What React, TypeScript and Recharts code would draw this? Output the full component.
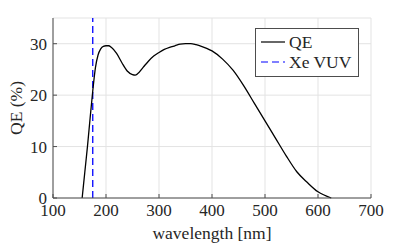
import React from 'react'
import { LineChart, Line, XAxis, YAxis, CartesianGrid, ReferenceLine, Legend } from 'recharts'

// photocathode quantum efficiency
const wavelengths = [
  155, 160, 165, 170, 175, 180, 185, 190, 195, 200, 205, 210, 220, 230, 240, 250, 255, 260, 270, 280,
  290, 300, 310, 320, 330, 340, 350, 360, 370, 380, 390, 400, 420, 440, 460, 480, 500, 520, 540, 560,
  580, 600, 625,
]
const qeValues = [
  0, 5, 10, 15.5, 20.8, 25.3, 27.8, 29.0, 29.5, 29.6, 29.6, 29.3, 28.1, 26.3, 24.7, 24.0, 23.9, 24.2,
  25.4, 26.6, 27.6, 28.3, 28.9, 29.3, 29.6, 29.9, 30.0, 30.0, 29.8, 29.5, 29.1, 28.6, 27.0, 24.8, 21.8,
  18.4, 15.0, 11.6, 8.2, 5.1, 3.0, 1.2, 0,
]
const xTicks = [100, 200, 300, 400, 500, 600, 700]
const yTicks = [0, 10, 20, 30]
const xeVuv = 175

const data = wavelengths.map((wl, i) => ({ wl, qe: qeValues[i] }))

const FONT = 'Liberation Serif'
const INK = '#262626'
const axisFrame = '#4d4d4d'

const tickStyle = { fontFamily: FONT, fontSize: 17, fill: INK }

function LegendBox() {
  return (
    <svg width={104} height={49} style={{ display: 'block' }}>
      <rect x={0.5} y={0.5} width={103} height={48} fill="#fff" stroke={axisFrame} />
      <line x1={6} y1={14} x2={30} y2={14} stroke="#000" strokeWidth={1.2} />
      <text x={34} y={19.5} fontFamily={FONT} fontSize={17.5} fill={INK}>
        QE
      </text>
      <line x1={6} y1={34} x2={30} y2={34} stroke="#0000ff" strokeWidth={1.2} strokeDasharray="7 4" />
      <text x={34} y={39.5} fontFamily={FONT} fontSize={17.5} fill={INK}>
        Xe VUV
      </text>
    </svg>
  )
}

export default function App() {
  return (
    <div style={{ position: 'absolute', left: 0, top: 0, width: 409, height: 246, background: '#fff' }}>
      <LineChart width={409} height={246} data={data} margin={{ top: 18, right: 38, bottom: 0, left: 13 }}>
        <CartesianGrid stroke="#e3e3e3" strokeWidth={1} />
        <XAxis
          dataKey="wl"
          type="number"
          domain={[100, 700]}
          ticks={xTicks}
          height={48}
          stroke={axisFrame}
          tickSize={-4}
          tickMargin={10}
          tick={tickStyle}
          label={{ value: 'wavelength [nm]', position: 'insideBottom', offset: 7, style: { fontFamily: FONT, fontSize: 17.5, fill: INK } }}
        />
        <XAxis
          xAxisId="top"
          orientation="top"
          type="number"
          domain={[100, 700]}
          ticks={xTicks}
          height={0}
          stroke={axisFrame}
          tickSize={-4}
          tick={false}
        />
        <YAxis
          type="number"
          domain={[0, 35]}
          ticks={yTicks}
          width={40}
          stroke={axisFrame}
          tickSize={-4}
          tickMargin={10}
          tick={tickStyle}
          label={{ value: 'QE (%)', angle: -90, position: 'insideLeft', offset: 3, style: { textAnchor: 'middle', fontFamily: FONT, fontSize: 17.5, fill: INK } }}
        />
        <YAxis
          yAxisId="right"
          orientation="right"
          type="number"
          domain={[0, 35]}
          ticks={yTicks}
          width={0}
          stroke={axisFrame}
          tickSize={-4}
          tick={false}
        />
        <ReferenceLine x={xeVuv} stroke="#0000ff" strokeWidth={1.3} strokeDasharray="7 4" />
        <Line
          dataKey="qe"
          type="monotone"
          stroke="#000"
          strokeWidth={1.3}
          dot={false}
          isAnimationActive={false}
        />
        <Legend
          layout="vertical"
          align="center"
          verticalAlign="middle"
          content={() => <LegendBox />}
          wrapperStyle={{ left: 255, top: 28, width: 104, height: 49 }}
        />
      </LineChart>
    </div>
  )
}
